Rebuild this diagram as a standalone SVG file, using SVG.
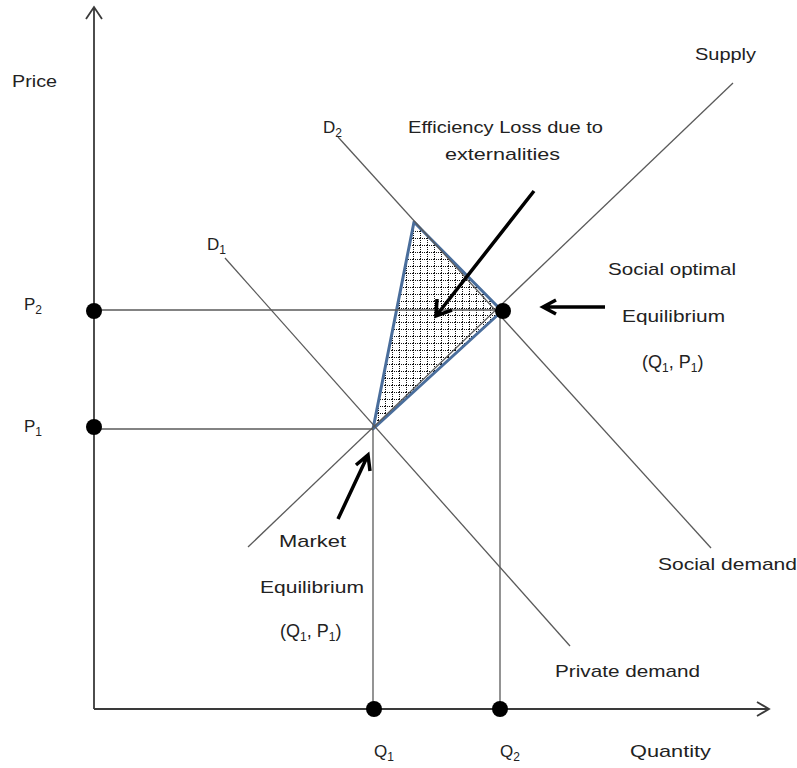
<svg xmlns="http://www.w3.org/2000/svg" width="797" height="768" viewBox="0 0 797 768">
<defs>
<style>
.ax{stroke:#3a3a3a;stroke-width:1.8;fill:none}
.ln{stroke:#5a5a5a;stroke-width:1.3;fill:none}
.ar{stroke:#000;stroke-width:3.5;fill:none}
.dot{fill:#000}
text{font-family:"Liberation Sans",Arial,sans-serif;font-size:17px;fill:#222}
.sub{font-size:12px}
.pq{font-size:18px}
</style>
<pattern id="grid" x="0" y="0" width="7" height="7" patternUnits="userSpaceOnUse">
<rect width="7" height="7" fill="#fff"/>
<path d="M0,0.5 h1 M2,0.5 h1 M4,0.5 h1 M6,0.5 h1" stroke="#111" stroke-width="1"/>
<path d="M0.5,2 v1 M0.5,4 v1 M0.5,6 v1" stroke="#111" stroke-width="1"/>
</pattern>
</defs>
<rect width="797" height="768" fill="#fff"/>
<g id="axes">
<path class="ax" d="M94,709 V7 M86,19 L94,7 L102,19"/>
<path class="ax" d="M94,709 H769 M757,702 L769,709 L757,716"/>
</g>
<g id="triangle">
<polygon points="414,222 502,311 373,429" fill="url(#grid)" stroke="#4a6e9c" stroke-width="3" stroke-linejoin="round"/>
</g>
<g id="connectors">
<line class="ln" x1="248" y1="547" x2="733" y2="83"/>
<line class="ln" x1="225" y1="258" x2="570" y2="646"/>
<line class="ln" x1="338" y1="137" x2="711" y2="548"/>
<line class="ln" x1="94" y1="429" x2="373" y2="429"/>
<line class="ln" x1="94" y1="310" x2="502" y2="310"/>
<line class="ln" x1="373" y1="429" x2="373" y2="709"/>
<line class="ln" x1="500" y1="310" x2="500" y2="709"/>
<path class="ar" d="M534,191 L436,316 M437,299 L436,316 L452,310"/>
<path class="ar" d="M605,307 H543 M556,300 L543,307 L556,314"/>
<path class="ar" d="M338,519 L368,455 M356,465 L368,455 L370,471"/>
</g>
<g id="dots">
<circle class="dot" cx="94" cy="311" r="8"/>
<circle class="dot" cx="94" cy="427" r="8"/>
<circle class="dot" cx="374" cy="709" r="8"/>
<circle class="dot" cx="500" cy="709" r="8"/>
<circle class="dot" cx="503" cy="311" r="8"/>
</g>
<g id="labels">
<text x="12" y="87" textLength="45" lengthAdjust="spacingAndGlyphs">Price</text>
<text x="695" y="60" textLength="61" lengthAdjust="spacingAndGlyphs">Supply</text>
<text x="630" y="757" textLength="81" lengthAdjust="spacingAndGlyphs">Quantity</text>
<text x="323" y="133">D<tspan class="sub" dy="4">2</tspan></text>
<text x="207" y="250">D<tspan class="sub" dy="4">1</tspan></text>
<text x="24" y="310">P<tspan class="sub" dy="4">2</tspan></text>
<text x="24" y="432">P<tspan class="sub" dy="4">1</tspan></text>
<text x="374" y="757">Q<tspan class="sub" dy="4">1</tspan></text>
<text x="500" y="757">Q<tspan class="sub" dy="4">2</tspan></text>
<text x="408" y="133" textLength="195" lengthAdjust="spacingAndGlyphs">Efficiency Loss due to</text>
<text x="445" y="160" textLength="115" lengthAdjust="spacingAndGlyphs">externalities</text>
<text x="608" y="275" textLength="128" lengthAdjust="spacingAndGlyphs">Social optimal</text>
<text x="622" y="322" textLength="103" lengthAdjust="spacingAndGlyphs">Equilibrium</text>
<text class="pq" x="642" y="368">(Q<tspan class="sub" dy="4">1</tspan><tspan dy="-4">, P</tspan><tspan class="sub" dy="4">1</tspan><tspan dy="-4">)</tspan></text>
<text x="279" y="547" textLength="67" lengthAdjust="spacingAndGlyphs">Market</text>
<text x="260" y="593" textLength="104" lengthAdjust="spacingAndGlyphs">Equilibrium</text>
<text class="pq" x="280" y="637">(Q<tspan class="sub" dy="4">1</tspan><tspan dy="-4">, P</tspan><tspan class="sub" dy="4">1</tspan><tspan dy="-4">)</tspan></text>
<text x="658" y="570" textLength="139" lengthAdjust="spacingAndGlyphs">Social  demand</text>
<text x="555" y="677" textLength="145" lengthAdjust="spacingAndGlyphs">Private demand</text>
</g>
</svg>
